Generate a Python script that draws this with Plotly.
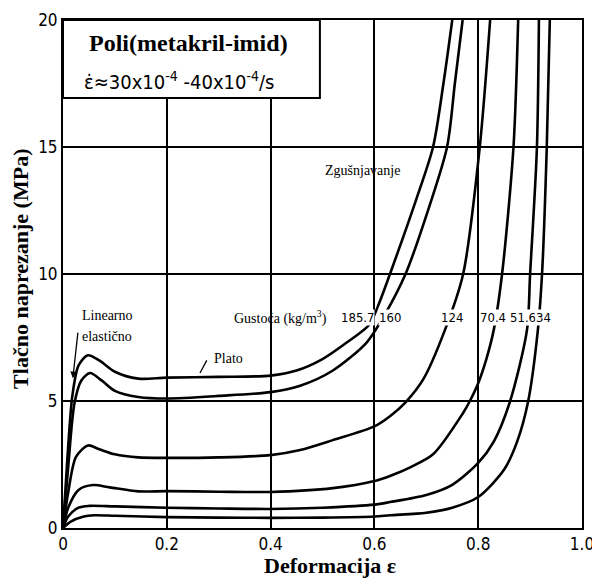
import plotly.graph_objects as go

# ---- data (strain, stress in MPa) ----
densities = ["185.7", "160", "124", "70.4", "51.6", "34"]

strain_1857 = [0, 0.008, 0.018, 0.03, 0.048, 0.07, 0.1, 0.145, 0.2, 0.3, 0.4, 0.45, 0.5, 0.55, 0.59, 0.61, 0.63, 0.68, 0.713, 0.733, 0.75]
stress_1857 = [0, 2.6, 5.2, 6.4, 6.8, 6.6, 6.15, 5.88, 5.92, 5.95, 6.0, 6.2, 6.65, 7.35, 8.0, 8.9, 10.0, 12.9, 15.0, 17.5, 20.0]

strain_160 = [0, 0.01, 0.022, 0.035, 0.052, 0.075, 0.1, 0.145, 0.2, 0.3, 0.4, 0.457, 0.52, 0.585, 0.62, 0.66, 0.70, 0.74, 0.755, 0.77]
stress_160 = [0, 2.4, 4.9, 5.8, 6.1, 5.8, 5.4, 5.16, 5.1, 5.2, 5.35, 5.6, 6.2, 7.3, 8.4, 10.0, 12.3, 15.0, 17.5, 20.0]

strain_124 = [0, 0.01, 0.025, 0.048, 0.07, 0.1, 0.145, 0.2, 0.3, 0.4, 0.457, 0.52, 0.6, 0.63, 0.66, 0.694, 0.736, 0.771, 0.803, 0.823]
stress_124 = [0, 1.4, 2.8, 3.25, 3.1, 2.9, 2.78, 2.76, 2.78, 2.87, 3.07, 3.46, 4.0, 4.4, 4.95, 5.85, 7.8, 10.0, 15.0, 20.0]

strain_704 = [0, 0.01, 0.03, 0.058, 0.09, 0.145, 0.2, 0.3, 0.4, 0.52, 0.6, 0.63, 0.67, 0.713, 0.77, 0.784, 0.8, 0.815, 0.83, 0.846, 0.868, 0.877]
stress_704 = [0, 0.8, 1.5, 1.69, 1.6, 1.44, 1.45, 1.43, 1.42, 1.57, 1.85, 2.05, 2.4, 2.9, 4.5, 5.0, 5.7, 6.6, 7.8, 10.0, 15.0, 20.0]

strain_516 = [0, 0.01, 0.03, 0.05, 0.1, 0.2, 0.3, 0.4, 0.5, 0.6, 0.63, 0.7, 0.75, 0.8, 0.83, 0.861, 0.894, 0.9, 0.913, 0.917]
stress_516 = [0, 0.45, 0.8, 0.87, 0.85, 0.8, 0.77, 0.75, 0.8, 0.92, 1.02, 1.3, 1.7, 2.56, 3.4, 4.96, 7.8, 10.0, 14.9, 20.0]

strain_34 = [0, 0.015, 0.04, 0.06, 0.1, 0.2, 0.3, 0.4, 0.5, 0.6, 0.63, 0.7, 0.75, 0.8, 0.85, 0.875, 0.896, 0.915, 0.923, 0.932, 0.938]
stress_34 = [0, 0.25, 0.45, 0.5, 0.48, 0.43, 0.41, 0.4, 0.41, 0.45, 0.5, 0.6, 0.8, 1.22, 2.3, 3.4, 4.96, 7.8, 10.0, 14.9, 20.0]

x_ticks = [0, 0.2, 0.4, 0.6, 0.8, 1.0]
x_ticktext = ["0", "0.2", "0.4", "0.6", "0.8", "1.0"]
y_ticks = [0, 5, 10, 15, 20]

# label positions (strain) for density labels
density_label_x = [0.568, 0.630, 0.750, 0.829, 0.886, 0.925]
density_label_y = 8.27

curves = [
    (strain_1857, stress_1857),
    (strain_160, stress_160),
    (strain_124, stress_124),
    (strain_704, stress_704),
    (strain_516, stress_516),
    (strain_34, stress_34),
]

SERIF = "Liberation Serif, Times New Roman, serif"
SANS = "DejaVu Sans Condensed, DejaVu Sans, sans-serif"
NARROW = "Liberation Sans Narrow, DejaVu Sans Condensed, sans-serif"

fig = go.Figure()
for (xs, ys), name in zip(curves, densities):
    fig.add_trace(go.Scatter(
        x=xs, y=ys, mode="lines", name=name,
        line=dict(color="black", width=2.6, shape="spline", smoothing=0.8),
        showlegend=False, hoverinfo="skip",
    ))

# title box
fig.add_shape(type="rect", xref="x", yref="y", x0=0, x1=0.495, y0=16.93, y1=20,
              fillcolor="white", line=dict(color="black", width=2), layer="between")
# "Plato" pointer
fig.add_shape(type="line", xref="x", yref="y", x0=0.277, y0=6.6, x1=0.264, y1=6.1,
              line=dict(color="black", width=1.3))

ann = []
ann.append(dict(x=0.047, y=19.1, xref="x", yref="y", text="<b>Poli(metakril-imid)</b>",
                showarrow=False, xanchor="left", yanchor="middle",
                font=dict(family=SERIF, size=24, color="black")))
ann.append(dict(x=0.036, y=17.6, xref="x", yref="y",
                text="ε̇≈30x10<sup>-4</sup> -40x10<sup>-4</sup>/s",
                showarrow=False, xanchor="left", yanchor="middle",
                font=dict(family=SANS, size=20, color="black")))
# axis titles
ann.append(dict(x=-0.081, y=0.51, xref="paper", yref="paper", text="<b>Tlačno naprezanje (MPa)</b>",
                textangle=-90, showarrow=False, xanchor="center", yanchor="middle",
                font=dict(family=SERIF, size=22, color="black")))
ann.append(dict(x=0.514, y=-0.073, xref="paper", yref="paper", text="<b>Deformacija ε</b>",
                showarrow=False, xanchor="center", yanchor="middle",
                font=dict(family=SERIF, size=22, color="black")))
# region labels
for txt, xx, yy in [("Linearno", 0.033, 8.35), ("elastično", 0.033, 7.52),
                    ("Plato", 0.287, 6.69), ("Zgušnjavanje", 0.501, 14.09),
                    ("Gustoća (kg/m<sup>3</sup>)", 0.326, 8.27)]:
    ann.append(dict(x=xx, y=yy, xref="x", yref="y", text=txt, showarrow=False,
                    xanchor="left", yanchor="middle",
                    font=dict(family=SERIF, size=14, color="black")))
# "Linearno elastično" arrow
ann.append(dict(x=0.019, y=5.9, ax=0.029, ay=7.75, xref="x", yref="y", axref="x", ayref="y",
                text="", showarrow=True, arrowhead=2, arrowsize=1, arrowwidth=1.3,
                arrowcolor="black"))
# density labels
for name, xx in zip(densities, density_label_x):
    ann.append(dict(x=xx, y=density_label_y, xref="x", yref="y", text=name, showarrow=False,
                    xanchor="center", yanchor="middle", bgcolor="white", borderpad=0,
                    font=dict(family=NARROW, size=13, color="black")))

fig.update_layout(
    width=592, height=580, autosize=False,
    margin=dict(l=63, r=10, t=20, b=52, autoexpand=False),
    paper_bgcolor="white", plot_bgcolor="white",
    annotations=ann,
    xaxis=dict(range=[0, 1], tickvals=x_ticks, ticktext=x_ticktext, automargin=False,
               showgrid=True, gridcolor="black", gridwidth=1.5,
               showline=True, linecolor="black", linewidth=2, mirror=True,
               zeroline=False, ticks="", ticklabeloverflow="allow",
               tickfont=dict(family=SANS, size=17, color="black")),
    yaxis=dict(range=[0, 20], tickvals=y_ticks, automargin=False,
               showgrid=True, gridcolor="black", gridwidth=1.5,
               showline=True, linecolor="black", linewidth=2, mirror=True,
               zeroline=False, ticks="", ticklabeloverflow="allow",
               tickfont=dict(family=SANS, size=17, color="black")),
)

fig.write_html("out.html", config={"displayModeBar": False},
               post_script="document.body.style.margin='0';document.body.style.overflow='hidden';")
